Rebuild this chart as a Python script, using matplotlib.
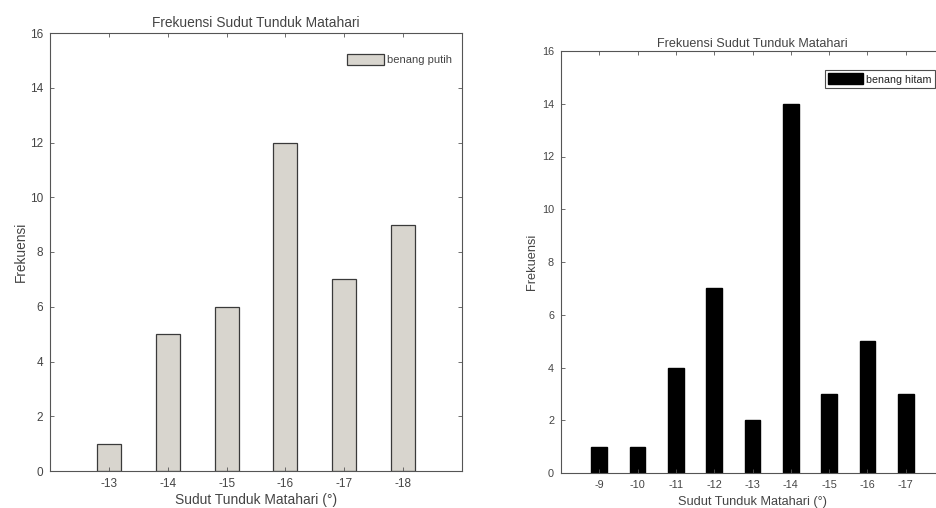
import matplotlib
matplotlib.use('Agg')
from matplotlib import pyplot as plt

plt.rcParams['font.family'] = ['Liberation Sans', 'DejaVu Sans']

# left chart: benang putih
putih_labels = ['-13', '-14', '-15', '-16', '-17', '-18']
putih_freq = [1, 5, 6, 12, 7, 9]

# right chart: benang hitam
hitam_labels = ['-9', '-10', '-11', '-12', '-13', '-14', '-15', '-16', '-17']
hitam_freq = [1, 1, 4, 7, 2, 14, 3, 5, 3]

title = 'Frekuensi Sudut Tunduk Matahari'
xlabel = 'Sudut Tunduk Matahari (°)'
ylabel = 'Frekuensi'

text_col = '#444444'
axis_col = '#555555'

W, H = 936, 508
fig = plt.figure(figsize=(W / 100, H / 100), dpi=100)


def px_axes(x0, y0, x1, y1):
    # pixel box (top-left origin) -> figure fraction
    return fig.add_axes([x0 / W, (H - y1) / H, (x1 - x0) / W, (y1 - y0) / H])


def style(ax, labels, fs_tick, fs_title, fs_label, pad_title, xpad, ypad):
    ax.set_xlim(0, len(labels) + 1)
    ax.set_ylim(0, 16)
    ax.set_xticks(range(1, len(labels) + 1))
    ax.set_xticklabels(labels)
    ax.set_yticks(range(0, 17, 2))
    ax.tick_params(direction='in', top=True, right=True, length=3, width=0.6,
                   colors=axis_col, labelcolor=text_col, labelsize=fs_tick, pad=5)
    for s in ax.spines.values():
        s.set_color(axis_col)
        s.set_linewidth(0.8)
    ax.set_title(title, fontsize=fs_title, color=text_col, pad=pad_title)
    ax.set_xlabel(xlabel, fontsize=fs_label, color=text_col, labelpad=xpad)
    ax.set_ylabel(ylabel, fontsize=fs_label, color=text_col, labelpad=ypad)


ax1 = px_axes(50, 33, 462, 471)
x1 = range(1, len(putih_freq) + 1)
ax1.bar(x1, putih_freq, width=0.41, color='#d8d5ce', edgecolor='#3a3a3a',
        linewidth=0.9, label='benang putih')
style(ax1, putih_labels, 8.5, 9.9, 9.9, 4, 2.5, 1.5)
leg1 = ax1.legend(loc='upper right', bbox_to_anchor=(1.0, 0.975), frameon=False,
                  fontsize=8, handlelength=3.3, handleheight=1.2, handletextpad=0.3,
                  labelcolor=text_col)

ax2 = px_axes(561, 51, 944, 473)
x2 = range(1, len(hitam_freq) + 1)
ax2.bar(x2, hitam_freq, width=0.41, color='black', edgecolor='black', label='benang hitam')
style(ax2, hitam_labels, 7.8, 9.1, 9.2, 3, 4.5, 3)
leg2 = ax2.legend(loc='upper right', bbox_to_anchor=(0.99, 0.967), frameon=True,
                  fancybox=False, fontsize=7.7, handlelength=3.3, handleheight=1.2,
                  handletextpad=0.3, borderpad=0.3, labelcolor='#222222')
leg2.get_frame().set_edgecolor('#222222')
leg2.get_frame().set_linewidth(0.8)

plt.savefig('out.png', dpi=100)
